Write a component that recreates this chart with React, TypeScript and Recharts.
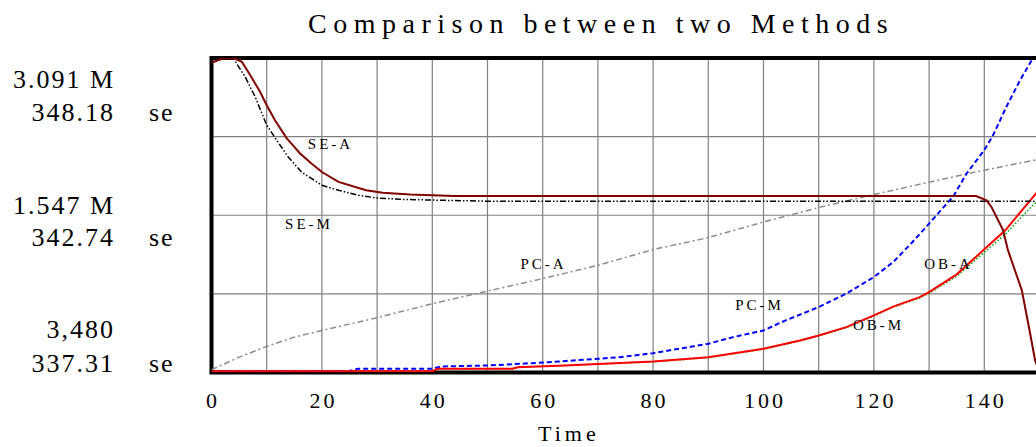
import React from "react";
import { LineChart, Line, XAxis, YAxis, CartesianGrid, ReferenceArea } from "recharts";

// Time axis
const timeTicks = [0, 10, 20, 30, 40, 50, 60, 70, 80, 90, 100, 110, 120, 130, 140];
const timeLabelTicks = [0, 20, 40, 60, 80, 100, 120, 140];

// Scales (Vensim multi-scale)
const mScale = [3480, 3091000];
const seScale = [337.31, 348.18];
const mGridTicks = [3480, 775360, 1547240, 2319120, 3091000];

// SE-A
const seATime = [0, 2, 4, 5.5, 7, 8.8, 10, 11.5, 13.6, 15, 16, 18, 20, 23, 28, 31, 36, 44, 138.5, 140.4, 141.3, 143.4, 144.3, 146.8, 148.3, 149.2, 150];
const seAValues = [348.02, 348.16, 348.18, 348.05, 347.59, 347.01, 346.55, 346.03, 345.41, 345.11, 344.89, 344.55, 344.24, 343.9, 343.61, 343.52, 343.46, 343.41, 343.41, 343.26, 343.03, 342.23, 341.53, 340.15, 338.66, 337.73, 337.31];

// SE-M
const seMTime = [0, 2, 3.9, 6.1, 7.9, 10, 11.8, 13.9, 16.3, 20, 23, 26.5, 30, 35, 50, 150];
const seMValues = [348.02, 348.15, 348.18, 347.53, 346.84, 345.86, 345.34, 344.76, 344.24, 343.78, 343.61, 343.44, 343.34, 343.29, 343.23, 343.23];

// PC-A
const pcATime = [0, 5, 10, 15, 20, 30, 40, 50, 60, 70, 80, 90, 100, 110, 120, 130, 140, 150];
const pcAValues = [30000, 154000, 259000, 350600, 416500, 541000, 679000, 803000, 925000, 1055600, 1210000, 1328000, 1481000, 1623000, 1751000, 1872000, 1990000, 2098000];

// PC-M
const pcMTime = [0, 25, 26.5, 40, 41.5, 50, 56, 61, 70, 74, 80, 90, 94.5, 100, 104, 110, 115, 120, 123.5, 127, 130, 134.4, 136.8, 140, 141.6, 144, 146.5, 148.8];
const pcMValues = [18000, 18000, 39860, 39860, 62480, 72300, 89000, 104800, 138200, 153900, 193300, 285700, 350600, 416500, 514800, 645600, 777300, 940600, 1088100, 1284700, 1465600, 1734100, 1957300, 2186400, 2333900, 2612200, 2874700, 3088000];

// OB-A
const obATime = [0, 40, 41, 54.5, 55.5, 64, 71, 80, 90, 100, 106.6, 110, 115, 120, 123.5, 128.3, 130, 135, 140, 143.8, 148.6, 150];
const obAValues = [16000, 16000, 39860, 39860, 55600, 72300, 89000, 111600, 153900, 236500, 318100, 367300, 448900, 563900, 650000, 743900, 793100, 967100, 1212900, 1399800, 1711400, 1802900];

// OB-M
const obMTime = [0, 40, 41, 54.5, 55.5, 64, 71, 80, 90, 100, 106.6, 110, 115, 120, 123.5, 128.3, 130, 135, 140, 143.8, 148.6, 150];
const obMValues = [16000, 16000, 39860, 39860, 55600, 72300, 89000, 108000, 150000, 232000, 313000, 362000, 444000, 558000, 645000, 735000, 783000, 947500, 1183400, 1360400, 1635800, 1704600];

const zip = (t: number[], v: number[]) => t.map((time, i) => ({ time, value: v[i] }));

const seAData = zip(seATime, seAValues);
const seMData = zip(seMTime, seMValues);
const pcAData = zip(pcATime, pcAValues);
const pcMData = zip(pcMTime, pcMValues);
const obAData = zip(obATime, obAValues);
const obMData = zip(obMTime, obMValues);

const FONT = '"Liberation Serif", "Times New Roman", serif';

const XTick = (props: any) => {
  const { x, payload } = props;
  if (!timeLabelTicks.includes(payload.value)) return <g />;
  return (
    <text x={x + 1.5} y={408} textAnchor="middle" fontFamily={FONT} fontSize={22} letterSpacing={3} fill="#000">
      {payload.value}
    </text>
  );
};

const seriesLabels = [
  { text: "SE-A", x: 329, y: 148.5 },
  { text: "SE-M", x: 307.5, y: 228.5 },
  { text: "PC-A", x: 542, y: 268.5 },
  { text: "PC-M", x: 758, y: 309.5 },
  { text: "OB-M", x: 877, y: 329.5 },
  { text: "OB-A", x: 947, y: 268.5 },
];

const leftLabels = [
  { text: "3.091 M", y: 88 },
  { text: "348.18", y: 121, unit: "se" },
  { text: "1.547 M", y: 214 },
  { text: "342.74", y: 246, unit: "se" },
  { text: "3,480", y: 338 },
  { text: "337.31", y: 371.5, unit: "se" },
];

export default function App() {
  return (
    <div style={{ position: "fixed", left: 0, top: 0, width: 1036, height: 447, overflow: "hidden", background: "#fff" }}>
      <LineChart width={1060} height={447} margin={{ top: 58, right: 20.5, left: 211.5, bottom: 0 }}>
        <CartesianGrid yAxisId="M" stroke="#808080" strokeWidth={1.2} />
        <XAxis
          dataKey="time"
          type="number"
          domain={[0, 150]}
          ticks={timeTicks}
          interval={0}
          axisLine={false}
          tickLine={false}
          height={74.5}
          tick={<XTick />}
          allowDataOverflow
        />
        <YAxis yAxisId="M" hide type="number" domain={mScale} ticks={mGridTicks} allowDataOverflow />
        <YAxis yAxisId="se" hide type="number" domain={seScale} allowDataOverflow />
        <ReferenceArea yAxisId="M" x1={0} x2={150} y1={mScale[0]} y2={mScale[1]} fill="none" fillOpacity={0} stroke="#000" strokeWidth={4} ifOverflow="visible" />
        <Line yAxisId="M" data={pcAData} dataKey="value" stroke="#8c8c8c" strokeWidth={1.5} strokeDasharray="6 3 2 3" dot={false} isAnimationActive={false} />
        <Line yAxisId="M" data={pcMData} dataKey="value" stroke="#0000ff" strokeWidth={2} strokeDasharray="5 3" dot={false} isAnimationActive={false} />
        <Line yAxisId="M" data={obMData} dataKey="value" stroke="#00a000" strokeWidth={1.5} strokeDasharray="1.5 2" dot={false} isAnimationActive={false} />
        <Line yAxisId="M" data={obAData} dataKey="value" stroke="#ff0000" strokeWidth={2} dot={false} isAnimationActive={false} />
        <Line yAxisId="se" data={seMData} dataKey="value" stroke="#000000" strokeWidth={1.5} strokeDasharray="6 2 1.5 2 1.5 2" dot={false} isAnimationActive={false} />
        <Line yAxisId="se" data={seAData} dataKey="value" stroke="#800000" strokeWidth={2} dot={false} isAnimationActive={false} />
      </LineChart>
      <svg width={1036} height={447} style={{ position: "absolute", left: 0, top: 0, pointerEvents: "none" }}>
        <text x={308} y={33} fontFamily={FONT} fontSize={28} letterSpacing={6.5} fill="#000">
          Comparison between two Methods
        </text>
        {leftLabels.map((l) => (
          <g key={l.text}>
            <text x={115} y={l.y} textAnchor="end" fontFamily={FONT} fontSize={26} letterSpacing={2} fill="#000">
              {l.text}
            </text>
            {l.unit ? (
              <text x={149} y={l.y} fontFamily={FONT} fontSize={26} letterSpacing={2} fill="#000">
                {l.unit}
              </text>
            ) : null}
          </g>
        ))}
        {seriesLabels.map((s) => (
          <text key={s.text} x={s.x + 1.5} y={s.y} textAnchor="middle" fontFamily={FONT} fontSize={15} letterSpacing={3} fill="#000">
            {s.text}
          </text>
        ))}
        <text x={538} y={441} fontFamily={FONT} fontSize={22} letterSpacing={4} fill="#000">
          Time
        </text>
      </svg>
    </div>
  );
}
